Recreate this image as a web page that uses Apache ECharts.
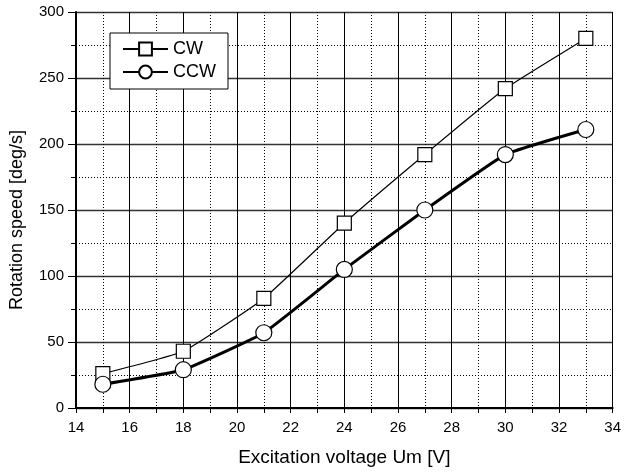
<!DOCTYPE html>
<html>
<head>
<meta charset="utf-8">
<script src="https://cdn.jsdelivr.net/npm/echarts@6/dist/echarts.min.js"></script>
<style>
  html, body { margin: 0; padding: 0; background: #fff; }
  #chart { width: 624px; height: 472px; }
</style>
</head>
<body>
<div id="chart"></div>
<script>
const voltage = [15, 18, 21, 24, 27, 30, 33];
const cwSpeed = [26, 43, 83, 140, 192, 242, 280];
const ccwSpeed = [18, 29, 57, 105, 150, 192, 211];

const chart = echarts.init(document.getElementById('chart'));
const font = 'Liberation Sans, Arial, sans-serif';

const pairs = (ys) => voltage.map((x, i) => [x, ys[i]]);

const option = {
  animation: false,
  backgroundColor: '#fff',
  textStyle: { fontFamily: font },
  grid: { left: 76, right: 8, top: 12, bottom: 62 },
  legend: {
    orient: 'vertical',
    left: 110,
    top: 33,
    padding: [7, 12, 8, 12],
    itemGap: 5,
    itemWidth: 45,
    itemHeight: 16,
    backgroundColor: '#fff',
    borderColor: '#000',
    borderWidth: 1,
    borderRadius: 0,
    textStyle: { fontSize: 18, lineHeight: 18, color: '#000', fontFamily: font },
    data: ['CW', 'CCW'],
  },
  xAxis: {
    type: 'value',
    min: 14,
    max: 34,
    interval: 2,
    name: 'Excitation voltage Um [V]',
    nameLocation: 'middle',
    nameGap: 40,
    nameTextStyle: { fontSize: 19, color: '#000', fontFamily: font },
    axisLine: { show: true, onZero: false, lineStyle: { color: '#000', width: 2 } },
    axisTick: { show: true, inside: false, length: 5, lineStyle: { color: '#000' } },
    minorTick: { show: true, splitNumber: 2, length: 5, lineStyle: { color: '#000' } },
    axisLabel: { fontSize: 15, color: '#000', margin: 12, fontFamily: font },
    splitLine: { show: true, lineStyle: { color: '#000', width: 1 } },
    minorSplitLine: { show: true, lineStyle: { color: '#000', width: 1, type: [1, 2] } },
  },
  yAxis: {
    type: 'value',
    min: 0,
    max: 300,
    interval: 50,
    name: 'Rotation speed [deg/s]',
    nameLocation: 'middle',
    nameGap: 50,
    nameTextStyle: { fontSize: 18, color: '#000', fontFamily: font, padding: [0, 20, 0, 0] },
    axisLine: { show: true, onZero: false, lineStyle: { color: '#000', width: 2 } },
    axisTick: { show: true, inside: false, length: 8, lineStyle: { color: '#000' } },
    minorTick: { show: true, splitNumber: 2, length: 5, lineStyle: { color: '#000' } },
    axisLabel: { fontSize: 15, color: '#000', margin: 12, fontFamily: font },
    splitLine: { show: true, lineStyle: { color: '#333', width: 1.3 } },
    minorSplitLine: { show: true, lineStyle: { color: '#000', width: 1, type: [1, 2] } },
  },
  series: [
    {
      name: 'CW',
      type: 'line',
      data: pairs(cwSpeed),
      smooth: 0.12,
      symbol: 'rect',
      symbolSize: 14,
      lineStyle: { color: '#000', width: 1.2 },
      itemStyle: { color: '#fff', borderColor: '#000', borderWidth: 1.2 },
      z: 3,
    },
    {
      name: 'CCW',
      type: 'line',
      data: pairs(ccwSpeed),
      smooth: 0.12,
      symbol: 'circle',
      symbolSize: 16,
      lineStyle: { color: '#000', width: 3 },
      itemStyle: { color: '#fff', borderColor: '#000', borderWidth: 1.2 },
      z: 4,
    },
  ],
};

chart.setOption(option);
</script>
</body>
</html>
